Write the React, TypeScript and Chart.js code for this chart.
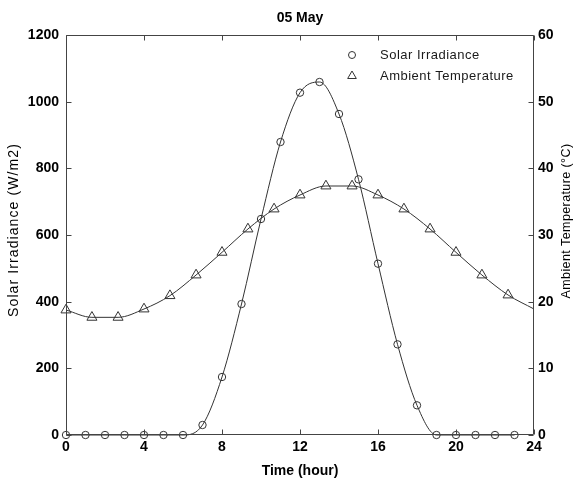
import React, { useEffect, useRef } from "react";
import { Chart, registerables } from "chart.js";

Chart.register(...registerables);

// ---- data ----
const solarHours = [0, 1, 2, 3, 4, 5, 6, 7, 8, 9, 10, 11, 12, 13, 14, 15, 16, 17, 18, 19, 20, 21, 22, 23];
const solarValues = [0, 0, 0, 0, 0, 0, 0, 30, 174, 393, 648, 879, 1027, 1059, 963, 767, 514, 272, 89, 0, 0, 0, 0, 0];
const tempHours = [0, 1.33, 2.67, 4, 5.33, 6.67, 8, 9.33, 10.67, 12, 13.33, 14.67, 16, 17.33, 18.67, 20, 21.33, 22.67, 24];
const tempValues = [18.75, 17.65, 17.65, 18.9, 20.9, 24.0, 27.4, 30.9, 33.9, 36.0, 37.35, 37.35, 36.0, 33.9, 30.9, 27.4, 24.0, 21.0, 18.9];
const xTicks = [0, 4, 8, 12, 16, 20, 24];
const leftTicks = [0, 200, 400, 600, 800, 1000, 1200];
const rightTicks = [0, 10, 20, 30, 40, 50, 60];
const chartTitle = "05 May";
const xTitle = "Time (hour)";
const leftTitle = "Solar Irradiance (W/m2)";
const rightTitle = "Ambient Temperature (°C)";
const solarLabel = "Solar Irradiance";
const tempLabel = "Ambient Temperature";

const FONT = "'Liberation Sans', Arial, sans-serif";
const LINE = "#333";
const FRAME = "#444";

const decorPlugin = {
  id: "decor",
  afterDraw(chart: any) {
    const ctx = chart.ctx as CanvasRenderingContext2D;
    const a = chart.chartArea;
    const L = Math.round(a.left) + 0.5;
    const R = Math.round(a.right) - 0.5;
    const T = Math.round(a.top) + 0.5;
    const B = Math.round(a.bottom) - 0.5;
    ctx.save();
    ctx.strokeStyle = FRAME;
    ctx.lineWidth = 1;
    ctx.beginPath();
    ctx.rect(L, T, R - L, B - T);
    ctx.stroke();
    const tl = 5;
    ctx.beginPath();
    const xs = chart.scales.x;
    xs.ticks.forEach((t: any) => {
      const px = Math.round(xs.getPixelForValue(t.value)) + 0.5;
      ctx.moveTo(px, B);
      ctx.lineTo(px, B - tl);
      ctx.moveTo(px, T);
      ctx.lineTo(px, T + tl);
    });
    const ys = chart.scales.y;
    ys.ticks.forEach((t: any) => {
      const py = Math.round(ys.getPixelForValue(t.value)) + 0.5;
      ctx.moveTo(L, py);
      ctx.lineTo(L + tl, py);
    });
    const y1 = chart.scales.y1;
    y1.ticks.forEach((t: any) => {
      const py = Math.round(y1.getPixelForValue(t.value)) + 0.5;
      ctx.moveTo(R, py);
      ctx.lineTo(R - tl, py);
    });
    ctx.stroke();

    const cx = (a.left + a.right) / 2;
    ctx.fillStyle = "#000";
    ctx.textAlign = "center";
    ctx.textBaseline = "middle";
    ctx.font = `bold 14px ${FONT}`;
    ctx.fillText(chartTitle, cx, 18);
    ctx.fillText(xTitle, cx, 471);

    // left title
    ctx.save();
    (ctx as any).letterSpacing = "1.1px";
    ctx.font = `14px ${FONT}`;
    ctx.translate(14, 230);
    ctx.rotate(-Math.PI / 2);
    ctx.fillText(leftTitle, 0, 0);
    ctx.restore();

    // right title
    ctx.save();
    (ctx as any).letterSpacing = "0.4px";
    ctx.font = `12.5px ${FONT}`;
    ctx.translate(567, 221);
    ctx.rotate(-Math.PI / 2);
    ctx.fillText(rightTitle, 0, 0);
    ctx.restore();

    // legend
    ctx.save();
    ctx.strokeStyle = LINE;
    ctx.lineWidth = 1;
    const mx = 352;
    const y1p = 55;
    const y2p = 76;
    ctx.beginPath();
    ctx.arc(mx, y1p, 3.5, 0, Math.PI * 2);
    ctx.stroke();
    const r = 5;
    ctx.beginPath();
    ctx.moveTo(mx, y2p - r);
    ctx.lineTo(mx + r * 0.866, y2p + r * 0.5);
    ctx.lineTo(mx - r * 0.866, y2p + r * 0.5);
    ctx.closePath();
    ctx.stroke();
    (ctx as any).letterSpacing = "0.5px";
    ctx.fillStyle = "#1a1a1a";
    ctx.textAlign = "left";
    ctx.textBaseline = "middle";
    ctx.font = `13px ${FONT}`;
    ctx.fillText(solarLabel, 380, y1p);
    ctx.fillText(tempLabel, 380, y2p);
    ctx.restore();

    ctx.restore();
  },
};

export default function App() {
  const ref = useRef<HTMLCanvasElement | null>(null);
  useEffect(() => {
    document.body.style.margin = "0";
    const canvas = ref.current;
    if (!canvas) return;
    const tickFont = { family: FONT, size: 14, weight: "bold" as const };
    const plain = (v: any) => String(v);
    const chart = new Chart(canvas, {
      type: "line",
      data: {
        datasets: [
          {
            label: solarLabel,
            data: solarHours.map((h, i) => ({ x: h, y: solarValues[i] })),
            yAxisID: "y",
            borderColor: LINE,
            borderWidth: 1,
            backgroundColor: "transparent",
            pointStyle: "circle",
            pointRadius: 3.7,
            pointBorderColor: LINE,
            pointBackgroundColor: "transparent",
            pointBorderWidth: 1,
            cubicInterpolationMode: "monotone",
            clip: false,
          },
          {
            label: tempLabel,
            data: tempHours.map((h, i) => ({ x: h, y: tempValues[i] })),
            yAxisID: "y1",
            borderColor: LINE,
            borderWidth: 1,
            backgroundColor: "transparent",
            pointStyle: "triangle",
            pointRadius: (c: any) => (c.dataIndex === tempHours.length - 1 ? 0 : 5.8),
            pointBorderColor: LINE,
            pointBackgroundColor: "transparent",
            pointBorderWidth: 1,
            cubicInterpolationMode: "monotone",
            clip: false,
          },
        ],
      },
      options: {
        animation: false,
        responsive: false,
        maintainAspectRatio: false,
        devicePixelRatio: 1,
        events: [],
        layout: { padding: { top: 35, left: 0, right: 0, bottom: 0 } },
        plugins: {
          legend: { display: false },
          title: { display: false },
          tooltip: { enabled: false },
        },
        scales: {
          x: {
            type: "linear",
            min: 0,
            max: 24,
            afterBuildTicks: (s: any) => {
              s.ticks = xTicks.map((v) => ({ value: v }));
            },
            afterFit: (s: any) => {
              s.height = 47;
            },
            grid: { display: false, drawTicks: false, tickLength: 0 },
            border: { display: false },
            ticks: { font: tickFont, color: "#000", padding: 4, maxRotation: 0, autoSkip: false, callback: plain },
          },
          y: {
            type: "linear",
            position: "left",
            min: 0,
            max: 1200,
            afterBuildTicks: (s: any) => {
              s.ticks = leftTicks.map((v) => ({ value: v }));
            },
            afterFit: (s: any) => {
              s.width = 66;
            },
            grid: { display: false, drawTicks: false, tickLength: 0 },
            border: { display: false },
            ticks: { font: tickFont, color: "#000", padding: 7, callback: plain },
          },
          y1: {
            type: "linear",
            position: "right",
            min: 0,
            max: 60,
            afterBuildTicks: (s: any) => {
              s.ticks = rightTicks.map((v) => ({ value: v }));
            },
            afterFit: (s: any) => {
              s.width = 43;
            },
            grid: { display: false, drawTicks: false, tickLength: 0 },
            border: { display: false },
            ticks: { font: tickFont, color: "#000", padding: 4, callback: plain },
          },
        },
      } as any,
      plugins: [decorPlugin],
    });
    return () => chart.destroy();
  }, []);
  return (
    <div style={{ width: 577, height: 482 }}>
      <canvas ref={ref} width={577} height={482} style={{ display: "block" }} />
    </div>
  );
}
